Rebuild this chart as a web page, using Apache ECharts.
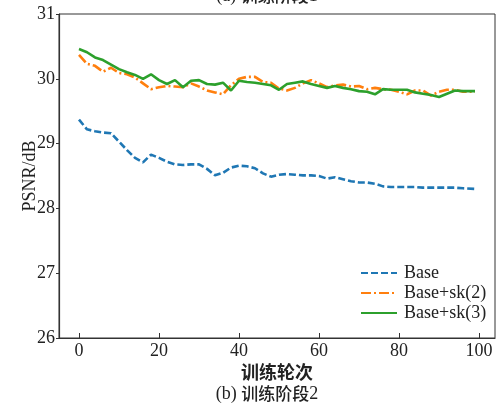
<!DOCTYPE html>
<html>
<head>
<meta charset="utf-8">
<script src="https://cdn.jsdelivr.net/npm/echarts@6/dist/echarts.min.js"></script>
<style>
  html, body { margin: 0; padding: 0; background: #fff; }
  #chart { width: 497px; height: 403px; }
</style>
</head>
<body>
<div id="chart"></div>
<script>
  // epochs where the curves are sampled
  const epochs = [
    0, 2, 4, 6, 8, 10, 12, 14, 16, 18,
    20, 22, 24, 26, 28, 30, 32, 34, 36, 38,
    40, 42, 44, 46, 48, 50, 52, 54, 56, 58,
    60, 62, 64, 66, 68, 70, 72, 74, 76, 78,
    80, 82, 84, 86, 88, 90, 92, 94, 96, 99,
  ];

  const baseValues = [
    29.37, 29.22, 29.19, 29.17, 29.16, 29.03, 28.90, 28.78, 28.71, 28.83,
    28.78, 28.72, 28.68, 28.67, 28.68, 28.68, 28.61, 28.51, 28.55, 28.63,
    28.66, 28.65, 28.62, 28.54, 28.49, 28.52, 28.53, 28.52, 28.51, 28.51,
    28.50, 28.46, 28.48, 28.45, 28.42, 28.40, 28.40, 28.38, 28.34, 28.33,
    28.33, 28.33, 28.33, 28.32, 28.32, 28.32, 28.32, 28.32, 28.31, 28.30,
  ];

  const sk2Values = [
    30.37, 30.23, 30.20, 30.11, 30.17, 30.09, 30.07, 30.02, 29.93, 29.84,
    29.87, 29.89, 29.88, 29.87, 29.93, 29.88, 29.82, 29.79, 29.76, 29.90,
    30.00, 30.03, 30.03, 29.95, 29.94, 29.85, 29.82, 29.86, 29.93, 29.98,
    29.93, 29.87, 29.90, 29.91, 29.88, 29.89, 29.84, 29.86, 29.84, 29.83,
    29.80, 29.76, 29.82, 29.82, 29.74, 29.80, 29.83, 29.83, 29.80, 29.80,
  ];

  const sk3Values = [
    30.46, 30.41, 30.33, 30.29, 30.22, 30.15, 30.10, 30.06, 30.00, 30.07,
    29.98, 29.92, 29.98, 29.87, 29.97, 29.98, 29.92, 29.91, 29.94, 29.82,
    29.97, 29.95, 29.94, 29.92, 29.90, 29.83, 29.92, 29.94, 29.96, 29.92,
    29.89, 29.86, 29.89, 29.86, 29.84, 29.81, 29.80, 29.76, 29.84, 29.83,
    29.83, 29.83, 29.79, 29.77, 29.75, 29.72, 29.77, 29.82, 29.81, 29.81,
  ];

  const xTicks = [0, 20, 40, 60, 80, 100];
  const seriesNames = ['Base', 'Base+sk(2)', 'Base+sk(3)'];

  const serif = "'Liberation Serif', 'Noto Sans CJK SC', serif";
  const cjk = "'Noto Sans CJK SC', sans-serif";

  const toPairs = (vals) => vals.map((v, i) => [epochs[i], v]);

  const captionRich = {
    lat: { fontFamily: serif, fontSize: 18, fontWeight: 'normal', color: '#222' },
    han: { fontFamily: cjk, fontSize: 17, fontWeight: 500, color: '#222' },
  };

  const myChart = echarts.init(document.getElementById('chart'), null, { renderer: 'canvas' });

  const option = {
    animation: false,
    backgroundColor: '#fff',
    textStyle: { fontFamily: serif },
    title: [
      {
        // caption of the panel above, cut off by the crop
        text: '{lat|(a) }{han|训练阶段}{lat|1}',
        left: 262,
        textAlign: 'center',
        top: -18,
        textStyle: { fontWeight: 'normal', rich: captionRich },
      },
      {
        text: '{lat|(b) }{han|训练阶段}{lat|2}',
        left: 262,
        textAlign: 'center',
        top: 380,
        textStyle: { fontWeight: 'normal', rich: captionRich },
      },
    ],
    legend: {
      orient: 'vertical',
      left: 355,
      top: 259,
      itemWidth: 36,
      itemHeight: 14,
      itemGap: 2,
      data: seriesNames,
      itemStyle: { opacity: 0 },
      textStyle: { fontFamily: serif, fontSize: 18, color: '#222', padding: [0, 0, 0, 2] },
    },
    grid: {
      left: 59,
      right: 2,
      top: 14,
      bottom: 65,
      show: true,
      borderColor: '#333',
      borderWidth: 1,
      backgroundColor: 'transparent',
    },
    xAxis: {
      type: 'value',
      min: -5,
      max: 104,
      name: '训练轮次',
      nameLocation: 'middle',
      nameGap: 25,
      nameMoveOverlap: false,
      nameTextStyle: { fontFamily: cjk, fontSize: 18, fontWeight: 'bold', color: '#222' },
      axisLine: { show: true, onZero: false, lineStyle: { color: '#333', width: 1.2 } },
      axisTick: { show: true, inside: true, length: 5, customValues: xTicks, lineStyle: { color: '#333' } },
      axisLabel: { customValues: xTicks, fontSize: 18, color: '#222', margin: 4, fontFamily: serif },
      splitLine: { show: false },
    },
    yAxis: {
      type: 'value',
      min: 26,
      max: 31,
      interval: 1,
      name: 'PSNR/dB',
      nameLocation: 'middle',
      nameGap: 20,
      nameMoveOverlap: false,
      nameRotate: 90,
      nameTextStyle: { fontFamily: serif, fontSize: 18, color: '#222' },
      axisLine: { show: true, onZero: false, lineStyle: { color: '#333', width: 1.2 } },
      axisTick: { show: true, length: 3, lineStyle: { color: '#333' } },
      axisLabel: { fontSize: 18, color: '#222', margin: 4, fontFamily: serif },
      splitLine: { show: false },
    },
    series: [
      {
        name: seriesNames[0],
        type: 'line',
        symbol: 'none',
        data: toPairs(baseValues),
        lineStyle: { color: '#1f77b4', width: 2.6, type: [7, 3] },
        itemStyle: { color: '#1f77b4' },
        z: 2,
      },
      {
        name: seriesNames[1],
        type: 'line',
        symbol: 'none',
        data: toPairs(sk2Values),
        lineStyle: { color: '#ff7f0e', width: 2.6, type: [10, 3, 2, 3] },
        itemStyle: { color: '#ff7f0e' },
        z: 3,
      },
      {
        name: seriesNames[2],
        type: 'line',
        symbol: 'none',
        data: toPairs(sk3Values),
        lineStyle: { color: '#2ca02c', width: 2.6, type: 'solid' },
        itemStyle: { color: '#2ca02c' },
        z: 4,
      },
    ],
  };

  myChart.setOption(option);
</script>
</body>
</html>
